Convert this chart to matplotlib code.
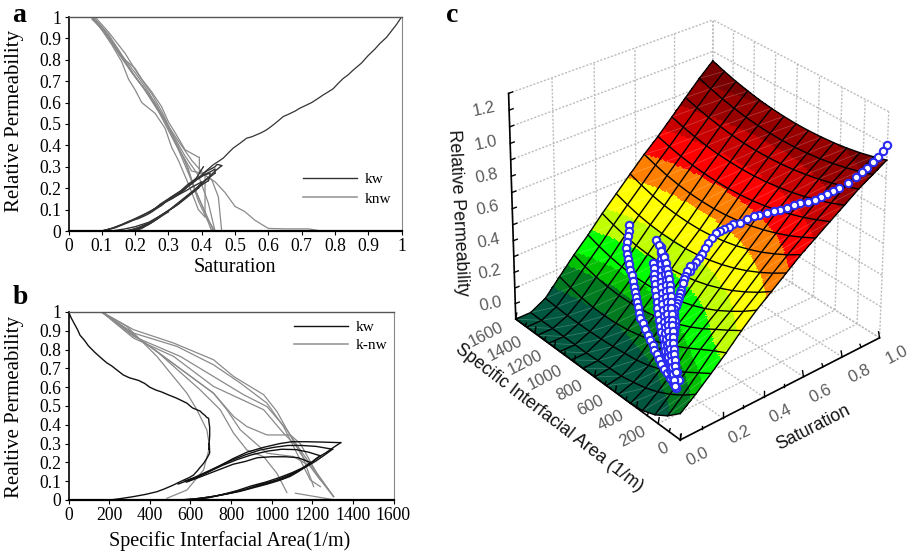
import numpy as np
import matplotlib
matplotlib.use("Agg")
import matplotlib.pyplot as plt
from matplotlib.colors import ListedColormap, BoundaryNorm
from matplotlib.collections import LineCollection

W, H = 913, 553
SERIF = "Liberation Serif"
SANS = "Liberation Sans"

# ---------- shared kw path data (saturation, area, relative permeability) ----------
main_s = [1,.985,.97,.955,.935,.92,.9,.88,.855,.84,.825,.81,.795,.78,.765,.75,.73,.71,.695,.68,.66,.645,.63,.61,.595,.58,.565,.55,.535,.515,.495,.48,.465,.45,.435,.42,.405]
main_z = [1,.965,.935,.905,.876,.85,.82,.785,.752,.73,.713,.69,.665,.65,.636,.62,.60,.585,.574,.56,.545,.535,.515,.49,.473,.46,.45,.44,.434,.41,.388,.365,.341,.325,.31,.29,.27]
main_a = [0,15,30,45,57,78,98,130,164,188,213,240,270,300,345,375,400,430,460,490,525,545,583,610,648,660,672,680,690,692,695,695,695,694,693,692,690]
ret_s = [.405,.395,.385,.375,.365,.35,.34,.33,.32,.31,.30,.29,.28,.27,.26,.25,.24,.23,.21,.18,.16,.14,.12,.10]
ret_a = [690,694,695,688,680,665,655,645,638,630,623,616,596,575,555,534,517,500,470,435,380,320,260,205]
ret_z = [.30,.275,.25,.235,.22,.195,.182,.17,.16,.15,.142,.133,.12,.11,.10,.089,.08,.072,.058,.044,.03,.018,.008,0]

l1_s = [.20,.22,.24,.26,.28,.30,.32,.34,.36,.38,.40,.42,.44,.46]
l1_a = [600,690,760,830,900,970,1040,1100,1150,1190,1225,1265,1305,1340]
l1_z = [0,.012,.03,.05,.075,.095,.12,.145,.17,.195,.225,.25,.28,.305]
l2_s = [.19,.21,.23,.25,.27,.29,.31,.33,.35,.37,.39,.41,.44]
l2_a = [580,660,740,810,880,950,1020,1080,1130,1175,1215,1255,1300]
l2_z = [0,.01,.025,.04,.06,.085,.105,.13,.155,.18,.205,.235,.27]
l3_s = [.18,.20,.22,.24,.26,.28,.30,.32,.34,.36,.38,.40,.42]
l3_a = [560,640,720,790,860,930,1000,1060,1110,1150,1185,1215,1240]
l3_z = [0,.008,.02,.035,.052,.075,.095,.115,.14,.165,.19,.215,.235]
l4_s = [.17,.19,.21,.23,.25,.27,.29,.31,.33,.35,.37,.39]
l4_a = [540,620,700,770,840,910,980,1040,1090,1130,1165,1190]
l4_z = [0,.006,.016,.03,.045,.065,.085,.105,.125,.15,.175,.20]

u1_s = [.46,.455,.45,.445,.44,.415,.395,.36,.335,.30,.275,.26,.24]
u1_a = [1340,1250,1170,1100,1040,960,880,810,750,690,640,590,540]
u1_z = [.305,.308,.31,.31,.30,.28,.255,.22,.185,.15,.125,.105,.085]
u2_s = [.44,.44,.44,.44,.43,.41,.385,.36,.33,.30,.275,.255]
u2_a = [1300,1220,1150,1080,1010,940,870,800,730,670,620,570]
u2_z = [.27,.285,.29,.29,.28,.265,.24,.21,.175,.145,.12,.10]
u3_s = [.42,.425,.425,.425,.405,.385,.365,.335,.305,.28,.255]
u3_a = [1240,1180,1120,1050,980,900,830,760,700,640,590]
u3_z = [.235,.255,.268,.27,.26,.24,.215,.185,.155,.125,.10]
u4_s = [.39,.40,.40,.40,.395,.37,.355,.325,.295,.27,.25]
u4_a = [1190,1130,1070,1000,930,870,810,750,690,630,580]
u4_z = [.20,.225,.23,.23,.225,.205,.19,.165,.14,.115,.095]

lowers = [(l1_s, l1_a, l1_z), (l2_s, l2_a, l2_z), (l3_s, l3_a, l3_z), (l4_s, l4_a, l4_z)]
uppers = [(u1_s, u1_a, u1_z), (u2_s, u2_a, u2_z), (u3_s, u3_a, u3_z), (u4_s, u4_a, u4_z)]

# extra low-saturation scanning curves in panel a
tails_a = [
    ([.10,.13,.16,.2,.25], [0,.012,.03,.058,.095]),
    ([.10,.14,.18,.22,.26], [0,.015,.04,.07,.105]),
    ([.13,.17,.2,.24,.28,.3], [0,.01,.02,.04,.075,.09]),
    ([.17,.2,.24,.27,.3], [0,.01,.03,.06,.09]),
]

# ---------- panel c: measured points forming the fan ----------
left_s = [.414,.403,.392,.382,.371,.361,.351,.341,.328,.316,.303,.29,.278,.265,.253,.241,.228,.216,.204,.192,.179,.167,.156,.144,.133,.121,.11,.103,.096,.09,.083,.076]
left_a = [1294,1280,1266,1252,1238,1208,1178,1148,1112,1077,1041,1006,971,936,902,867,832,797,748,698,649,600,558,516,473,431,389,348,306,265,223,182]
left_z = [.30,.275,.25,.225,.20,.183,.167,.15,.138,.125,.113,.10,.09,.08,.07,.06,.05,.04,.035,.03,.025,.02,.017,.014,.011,.008,.005,0,-.005,-.01,-.015,-.02]
m1_s = [.426,.421,.417,.412,.408,.399,.39,.38,.371,.357,.343,.328,.314,.297,.28,.264,.247,.23,.213,.196,.18,.163,.146,.129]
m1_a = [1053,1020,986,953,919,893,867,841,815,784,752,721,690,654,619,583,548,512,475,438,401,364,327,290]
m1_z = [.30,.28,.26,.24,.22,.2,.185,.168,.15,.135,.12,.105,.09,.08,.07,.06,.05,.04,.032,.023,.015,.007,0,-.01]
m2_s = [.37,.359,.349,.338,.327,.314,.3,.287,.273,.258,.244,.229,.214,.197,.18,.163,.146,.13,.115,.099,.084]
m2_a = [970,946,922,898,874,842,809,777,745,706,667,628,589,545,501,456,412,363,315,266,217]
m2_z = [.22,.203,.185,.168,.15,.135,.12,.105,.09,.079,.068,.056,.045,.038,.03,.023,.015,.009,.003,-.004,-.01]
m3_s = [.428,.414,.4,.386,.372,.36,.349,.337,.326,.314,.299,.284,.27,.255,.24,.222,.205,.187,.17,.152,.137,.123,.108,.093,.078]
m3_a = [1008,982,956,930,904,879,854,829,804,779,745,711,678,644,610,569,528,486,445,404,362,321,279,238,196]
m3_z = [.27,.253,.235,.218,.20,.182,.164,.146,.128,.11,.098,.086,.074,.062,.05,.043,.036,.029,.022,.015,.009,.003,-.003,-.009,-.015]
m4_s = [.417,.406,.395,.384,.373,.359,.345,.33,.316,.302,.285,.268,.252,.235,.218,.2,.183,.166,.148,.131]
m4_a = [956,932,907,883,858,828,797,767,736,706,670,635,599,564,528,489,450,410,371,332]
m4_z = [.24,.22,.2,.18,.16,.146,.132,.118,.104,.09,.08,.07,.06,.05,.04,.032,.024,.016,.008,0]

# ---------- panel a: non-wetting curves ----------
ka_curves = [
    ([.07,.1,.14,.17,.2,.22,.25,.28,.3,.32,.35,.39,.393,.393,.41,.41],
     [1,.95,.87,.80,.76,.71,.65,.58,.51,.46,.38,.345,.345,.27,.26,.07]),
    ([.07,.12,.17,.22,.27,.3,.33,.37,.41,.44,.47,.5,.53,.56,.6,.65,.72,.76],
     [1,.90,.79,.68,.56,.49,.42,.33,.26,.23,.18,.115,.09,.05,.012,.01,.01,0]),
    ([.07,.1,.13,.16,.18,.2,.22,.26,.29,.31,.33,.36,.39,.41],
     [1,.94,.87,.79,.71,.66,.60,.55,.48,.39,.33,.22,.10,.065]),
    ([.07,.11,.15,.19,.23,.27,.3,.33,.36,.39,.42,.44],
     [.99,.93,.83,.74,.66,.56,.47,.38,.27,.16,.05,0]),
    ([.075,.12,.16,.2,.24,.28,.31,.34,.37,.4,.43,.45,.46],
     [1,.92,.82,.74,.65,.54,.45,.36,.28,.27,.24,.16,0]),
    ([.07,.1,.15,.2,.25,.29,.32,.35,.37,.39,.42,.43],
     [1,.95,.84,.72,.62,.52,.42,.33,.23,.14,.04,0]),
    ([.07,.11,.16,.21,.26,.3,.33,.36,.38,.41,.435],
     [1,.93,.81,.70,.60,.49,.39,.29,.19,.09,0]),
    ([.08,.12,.17,.21,.25,.28,.31,.35,.39,.42,.44],
     [1,.93,.83,.73,.64,.56,.46,.35,.26,.13,0]),
]

# ---------- panel b: non-wetting curves ----------
kb_curves = [
    ([164,287,435,583,632,681,695,665,583,484], [1,.924,.764,.568,.48,.373,.284,.16,.053,.009]),
    ([164,435,648,747,813,878,961,1026,1075], [1,.79,.586,.48,.355,.266,.23,.142,.04]),
    ([164,435,714,780,846,977,1108,1190,1240], [1,.79,.568,.48,.373,.249,.231,.18,.107]),
    ([164,435,714,813,879,977,1092,1141,1223,1305], [1,.79,.568,.444,.39,.346,.346,.30,.142,.018]),
    ([164,320,517,714,813,961,1026,1076,1141,1223,1305], [1,.906,.835,.746,.657,.56,.471,.373,.266,.142,.018]),
    ([164,320,550,714,862,977,1076,1141,1240,1305], [1,.87,.764,.657,.56,.497,.373,.249,.107,.018]),
    ([164,320,534,714,846,977,1059,1190,1240], [1,.888,.817,.719,.622,.515,.39,.107,.071]),
    ([164,320,517,714,961,1059,1108,1141,1207], [1,.861,.764,.604,.48,.355,.302,.266,.071]),
    ([1117,1314], [.036,.0]),
]

ticks_a = [0,.1,.2,.3,.4,.5,.6,.7,.8,.9,1]
tick_labels_a = ["0","0.1","0.2","0.3","0.4","0.5","0.6","0.7","0.8","0.9","1"]
ticks_b = [0,200,400,600,800,1000,1200,1400,1600]

# ---------- panel c: fitted surface (rows: saturation, columns: area) ----------
surf_s = [0,.071,.143,.214,.286,.357,.429,.5,.571,.643,.714,.786,.857,.929,1]
surf_a = [0,114,229,343,457,571,686,800,914,1029,1143,1257,1371,1486,1600]
surf_z = [
 [-.04,-.11,-.16,-.19,-.20,-.20,-.20,-.20,-.20,-.20,-.20,-.20,-.20,-.20,-.20],
 [.03,-.03,-.08,-.12,-.15,-.17,-.185,-.19,-.195,-.20,-.20,-.20,-.20,-.20,-.20],
 [.11,.06,.01,-.04,-.08,-.11,-.13,-.14,-.15,-.155,-.16,-.16,-.16,-.155,-.15],
 [.19,.15,.105,.06,.019,-.017,-.047,-.07,-.087,-.097,-.101,-.098,-.088,-.072,-.05],
 [.28,.23,.183,.135,.094,.06,.031,.01,-.005,-.012,-.014,-.007,.005,.024,.05],
 [.36,.302,.251,.205,.166,.134,.109,.09,.077,.072,.072,.079,.093,.114,.14],
 [.43,.375,.327,.285,.25,.22,.197,.18,.169,.166,.168,.176,.191,.213,.24],
 [.50,.45,.405,.366,.333,.306,.285,.27,.261,.258,.261,.269,.283,.304,.33],
 [.57,.521,.478,.44,.409,.383,.364,.35,.342,.341,.345,.354,.37,.393,.42],
 [.63,.587,.549,.517,.49,.468,.452,.44,.434,.434,.438,.448,.463,.485,.51],
 [.69,.654,.622,.595,.571,.553,.539,.53,.525,.525,.529,.537,.55,.568,.59],
 [.75,.717,.689,.664,.644,.629,.617,.61,.607,.609,.614,.624,.639,.657,.68],
 [.81,.78,.755,.734,.717,.704,.695,.69,.689,.692,.699,.712,.727,.747,.77],
 [.86,.834,.811,.793,.778,.768,.762,.76,.762,.768,.778,.793,.811,.834,.86],
 [.91,.887,.867,.852,.841,.834,.83,.83,.834,.842,.853,.87,.889,.913,.94],
]
band_levels = [-.3,-.1,0,.06,.16,.26,.40,.51,.62,.73,.84,.93,1.3]
band_colors = ["#00573f","#007a20","#00c000","#00ff00","#bfff00","#ffff00","#ff8000","#ff0000","#c80000","#980000","#780000","#680000"]

z_ticks = [0,.2,.4,.6,.8,1.0,1.2]
s_ticks = [0,.2,.4,.6,.8,1.0]
a_ticks = [0,200,400,600,800,1000,1200,1400,1600]

plt.rcParams["font.family"] = SERIF
fig = plt.figure(figsize=(W/100, H/100), dpi=100)

def box(x0, y0, x1, y1):
    return [x0/W, 1-y1/H, (x1-x0)/W, (y1-y0)/H]

def ftext(x, y, s, **kw):
    fig.text(x/W, 1-y/H, s, ha=kw.pop("ha","center"), va=kw.pop("va","center"), **kw)

def style(ax):
    ax.spines["left"].set_linewidth(1.2)
    ax.spines["bottom"].set_linewidth(1.6)
    ax.spines["top"].set_linewidth(1.0); ax.spines["top"].set_color("#555555")
    ax.spines["right"].set_linewidth(0.8); ax.spines["right"].set_color("#888888")
    ax.tick_params(length=3, width=0.8, labelsize=12.7, pad=2)
    ax.set_ylim(0, 1)
    ax.set_yticks(ticks_a, tick_labels_a)

DK, GR = "#333333", "#8a8a8a"

# panel a
ax = fig.add_axes(box(68.5, 17, 401.5, 231)); style(ax)
ax.set_xlim(0, 1); ax.set_xticks(ticks_a, tick_labels_a)
for xs, ys in ka_curves:
    ax.plot(xs, ys, color=GR, lw=0.9)
ax.plot(main_s, main_z, color=DK, lw=0.9)
ax.plot(ret_s, ret_z, color=DK, lw=1.0)
for (s, a, z) in lowers + uppers:
    ax.plot(s, z, color=DK, lw=1.0)
for xs, ys in tails_a:
    ax.plot(xs, ys, color=DK, lw=1.0)
ax.plot([], [], color=DK, lw=1.0, label="kw")
ax.plot([], [], color="#999999", lw=1.2, label="knw")
ax.legend(loc="upper left", bbox_to_anchor=(.705, .272), frameon=False, fontsize=11,
          handlelength=3.5, handletextpad=.5, labelspacing=.35, borderpad=0, borderaxespad=0)
ftext(15, 121, "Relative Permeability", rotation=90, fontsize=15)
ftext(235, 268, "Saturation", fontsize=14.5)
ftext(19, 15, "a", fontsize=20, fontweight="bold")

# panel b
ax = fig.add_axes(box(68.5, 312, 393.5, 500)); style(ax)
ax.set_xlim(0, 1600); ax.set_xticks(ticks_b, [str(t) for t in ticks_b])
for xs, ys in kb_curves:
    ax.plot(xs, ys, color=GR, lw=0.9)
ax.plot(main_a, main_z, color="#111111", lw=1.0)
ax.plot(ret_a, ret_z, color="#111111", lw=1.0)
for (s, a, z) in lowers + uppers:
    ax.plot(a, z, color="#111111", lw=1.0)
ax.plot([], [], color="#111111", lw=1.0, label="kw")
ax.plot([], [], color="#999999", lw=1.2, label="k-nw")
ax.legend(loc="upper left", bbox_to_anchor=(.695, .955), frameon=False, fontsize=11,
          handlelength=3.5, handletextpad=.5, labelspacing=.3, borderpad=0, borderaxespad=0)
ftext(15, 407, "Realtive Permeability", rotation=90, fontsize=15)
ftext(230, 541, "Specific Interfacial Area(1/m)", fontsize=14.5)
ftext(20, 298, "b", fontsize=20, fontweight="bold")

# panel c: one full-figure axes in pixel units, with a fitted camera
axc = fig.add_axes([0, 0, 1, 1], zorder=-1)
axc.set_xlim(0, W); axc.set_ylim(H, 0); axc.axis("off")

cam_world = np.array([[0,0,0],[1,0,0],[0,1,0],[1,1,0],[0,0,1],[1,0,1],[0,1,1],[1,1,1]], float)
cam_pixel = np.array([[680,441],[878,340],[517,321],[712,228],[681,190],[890,117],[507,99],[713,18]], float)
rows = []
for (x, y, z), (u, v) in zip(cam_world, cam_pixel):
    rows.append([x,y,z,1,0,0,0,0,-u*x,-u*y,-u*z,-u])
    rows.append([0,0,0,0,x,y,z,1,-v*x,-v*y,-v*z,-v])
P = np.linalg.svd(np.array(rows))[2][-1].reshape(3, 4)

def proj(s, a, z):
    s, a, z = np.asarray(s, float), np.asarray(a, float)/1600, (np.asarray(z, float)+.2)/1.4
    pts = np.stack([s, a, z, np.ones_like(s*a*z)], axis=-1) @ P.T
    return pts[..., 0]/pts[..., 2], pts[..., 1]/pts[..., 2]

def line3(s, a, z, **kw):
    u, v = proj(np.array(s, float), np.array(a, float), np.array(z, float))
    axc.plot(u, v, **kw)

grid_kw = dict(color="#bdbdbd", lw=1.0, ls=(0, (1.5, 1.2)), zorder=1)
ZB, ZT = -.2, 1.2
for t in s_ticks:
    line3([t,t],[1600,1600],[ZB,ZT],**grid_kw)
    line3([t,t],[0,1600],[ZB,ZB],**grid_kw)
for t in a_ticks:
    line3([1,1],[t,t],[ZB,ZT],**grid_kw)
    line3([0,1],[t,t],[ZB,ZB],**grid_kw)
for t in [-.2]+z_ticks:
    line3([0,1],[1600,1600],[t,t],**grid_kw)
    line3([1,1],[0,1600],[t,t],**grid_kw)

# surface, drawn as finely subdivided bands between the typed grid nodes
Zg = np.array(surf_z); Sg = np.array(surf_s); Ag = np.array(surf_a, float)
sub = 12
si = np.arange(len(Sg)-1).repeat(sub)
sf = np.tile(np.arange(sub)/sub, len(Sg)-1)
fs = np.r_[Sg[si]+(Sg[si+1]-Sg[si])*sf, Sg[-1]]
ai = np.arange(len(Ag)-1).repeat(sub)
af = np.tile(np.arange(sub)/sub, len(Ag)-1)
fa = np.r_[Ag[ai]+(Ag[ai+1]-Ag[ai])*af, Ag[-1]]
Ztmp = np.array([np.interp(fa, Ag, r) for r in Zg])
Zf = np.array([np.interp(fs, Sg, c) for c in Ztmp.T]).T
FS, FA = np.meshgrid(fs, fa, indexing="ij")
U, V = proj(FS, FA, Zf)
cmap = ListedColormap(band_colors); norm = BoundaryNorm(band_levels, cmap.N)
axc.pcolormesh(U, V, Zf[:-1,:-1], cmap=cmap, norm=norm, shading="flat", antialiased=False, zorder=2)
GU, GV = proj(*np.meshgrid(Sg, Ag, indexing="ij"), Zg)
diags = [[(GU[i, j+1], GV[i, j+1]), (GU[i+1, j], GV[i+1, j])] for i in range(len(Sg)-1) for j in range(len(Ag)-1)]
axc.add_collection(LineCollection(diags, colors="white", linewidths=0.6, alpha=.22, zorder=2.5))
for i in range(len(Sg)):
    axc.plot(GU[i], GV[i], color="k", lw=1.0, zorder=3)
for j in range(len(Ag)):
    axc.plot(GU[:, j], GV[:, j], color="k", lw=1.0, zorder=3)

# box axes and ticks
ax_kw = dict(color="k", lw=1.2, zorder=4)
line3([0,0],[1600,1600],[ZB,ZT],**ax_kw)
line3([0,1],[0,0],[ZB,ZB],**ax_kw)
line3([0,0],[0,1600],[ZB,ZB],**ax_kw)
tick_kw = dict(color="k", lw=1.0, zorder=4)
for t in np.arange(-.2, 1.21, .1):
    u, v = proj(0, 1600, t); axc.plot([u, u+4], [v, v-1.5], **tick_kw)
for t in np.arange(0, 1.01, .1):
    u, v = proj(t, 0, ZB); axc.plot([u, u-1 if t > .5 else u], [v, v-(6 if round(t*10)%2==0 else 3)], **tick_kw)
for t in np.arange(0, 1601, 100):
    u, v = proj(0, t, ZB); axc.plot([u, u+1], [v, v-(6 if round(t/100)%2==0 else 3)], **tick_kw)

lab_kw = dict(family=SANS, fontsize=12, color="#5a5a5a", zorder=5, va="center")
for t in z_ticks:
    u, v = proj(0, 1600, t)
    axc.text(u-24, v+16, f"{t:.1f}", rotation=12, ha="center", **lab_kw)
for t in s_ticks:
    u, v = proj(t, 0, ZB)
    axc.text(u+17, v+17, f"{t:.1f}", rotation=27, ha="center", **lab_kw)
for t in a_ticks:
    u, v = proj(0, t, ZB)
    axc.text(u-13, v+7, f"{t}", rotation=27, ha="right", rotation_mode="anchor", **lab_kw)
title_kw = dict(family=SANS, fontsize=12.8, color="#111111", ha="center", va="center", zorder=5,
                rotation_mode="anchor")
axc.text(458, 213, "Relative Permeability", rotation=-87, **title_kw)
axc.text(549, 418, "Specific Interfacial Area (1/m)", rotation=-37.5, **title_kw)
axc.text(813, 428, "Saturation", rotation=27, **title_kw)
ftext(452, 15, "c", fontsize=20, fontweight="bold")

# data points
marker_kw = dict(s=28, facecolor="white", edgecolor="#2a2af0", linewidths=1.5, zorder=6)
groups = [(main_s, main_a, main_z), (ret_s, ret_a, ret_z), (left_s, left_a, left_z),
          (m2_s, m2_a, m2_z), (m3_s, m3_a, m3_z), (m4_s, m4_a, m4_z), (m1_s, m1_a, m1_z)]
for (s, a, z) in groups:
    u, v = proj(np.array(s, float), np.array(a, float), np.array(z, float))
    axc.scatter(u, v, **marker_kw)

fig.savefig("out.png", dpi=100)
